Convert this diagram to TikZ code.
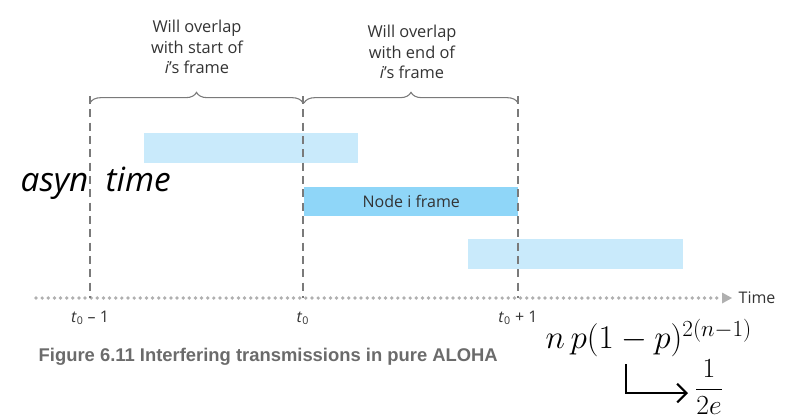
\documentclass[tikz,border=0pt]{standalone}
\usepackage{fontspec}
\setmainfont{Open Sans}
\newfontfamily\capfont{Liberation Sans}
\usetikzlibrary{decorations.pathreplacing,arrows.meta}
\definecolor{barlight}{HTML}{C9EAFB}
\definecolor{bardark}{HTML}{8FD6F8}
\definecolor{axisgray}{HTML}{B0B0B0}
\definecolor{dashgray}{HTML}{7A7A7A}
\definecolor{txtgray}{HTML}{333333}
\definecolor{capgray}{HTML}{6B6B6B}
\tikzset{
  bar/.style={fill=barlight,draw=none},
  vdash/.style={draw=dashgray,line width=1pt,dash pattern=on 6pt off 4pt},
  brace/.style={draw=dashgray,line width=0.8pt,decorate,decoration={brace,amplitude=8pt}},
  note/.style={font=\fontsize{12.3}{15.5}\selectfont,text=txtgray,align=center},
  tick/.style={font=\fontsize{12}{14}\selectfont,text=txtgray},
  hand/.style={font=\fontsize{25}{26}\selectfont\itshape,text=black}
}
\begin{document}
\begin{tikzpicture}[x=0.75pt,y=-0.75pt]
\useasboundingbox (0,0) rectangle (785,419);
% bars
\fill[bar] (144,133) rectangle (358,163);
\node[fill=bardark,minimum width=214*0.75pt,minimum height=29*0.75pt,inner sep=0pt,anchor=north west,font=\fontsize{12}{14}\selectfont,text=txtgray] (fr) at (304,187) {Node i frame};
\fill[bar] (468,239) rectangle (683,269);
% axis
\coordinate (ax0) at (36,298);
\coordinate (ax1) at (722,298);
\draw[axisgray,line width=2.8pt,line cap=round,dash pattern=on 0pt off 4.6pt] (ax0) -- (ax1);
\fill[axisgray] (722,292.5) -- (732,298) -- (722,303.5) -- cycle;
\node[anchor=west,tick] (time) at (734,298) {Time};
% dashed verticals
\coordinate (a) at (90,298);
\coordinate (b) at (303,298);
\coordinate (c) at (518,298);
\draw[vdash] (90,96) -- (a);
\draw[vdash] (303,96) -- (b);
\draw[vdash] (518,96) -- (c);
% braces
\draw[brace] (90,103) -- (303,103);
\draw[brace] (304,103) -- (518,103);
\node[note] (n1) at (197,47) {Will overlap\\with start of\\\textit{i}’s frame};
\node[note] (n2) at (412,52) {Will overlap\\with end of\\\textit{i}’s frame};
% tick labels
\node[tick] (l1) at (90,318) {\textit{t}\textsubscript{0} – 1};
\node[tick] (l2) at (303,318) {\textit{t}\textsubscript{0}};
\node[tick] (l3) at (518,318) {\textit{t}\textsubscript{0} + 1};
% caption
\node[anchor=west,font=\capfont\bfseries\fontsize{13.8}{15}\selectfont,text=capgray] (cap) at (34,357) {Figure 6.11 Interfering transmissions in pure ALOHA};
% handwritten notes
\node[hand,anchor=west] (asyn) at (16,183) {asyn\ \ time};
\node[hand,anchor=west] (form) at (541,338) {$n\,p(1-p)^{2(n-1)}$};
\coordinate (h0) at (626,364);
\coordinate (h1) at (626,393);
\coordinate (h2) at (688,393);
\draw[line width=1.6pt,-{Straight Barb[length=7pt,width=14pt]}] (h0) -- (h1) -- (h2);
\node[hand,anchor=west,font=\fontsize{22}{24}\selectfont] (half) at (690,387) {$\displaystyle\frac{1}{2e}$};
\end{tikzpicture}
\end{document}
